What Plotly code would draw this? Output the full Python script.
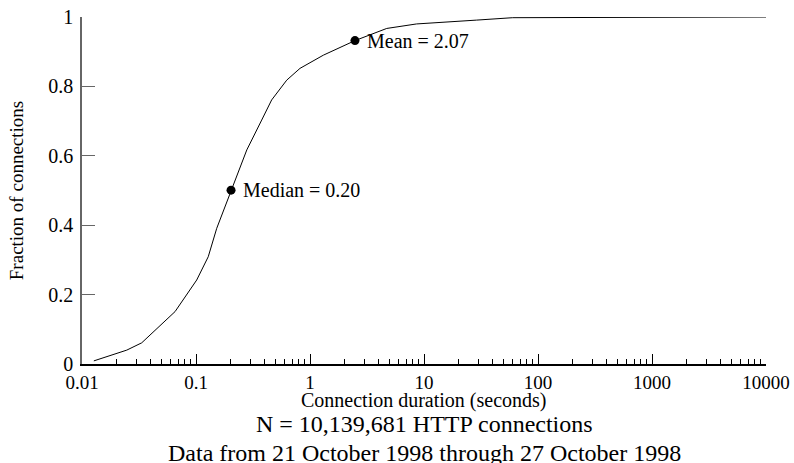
import math
import plotly.graph_objects as go

duration = [0.0127, 0.0247, 0.0334, 0.0655, 0.1014, 0.128, 0.152, 0.203, 0.243, 0.279,
            0.377, 0.461, 0.625, 0.817, 1.31, 2.48, 4.71, 8.6, 28.8, 60, 10000]
fraction = [0.009, 0.040, 0.061, 0.151, 0.242, 0.309, 0.391, 0.501, 0.564, 0.617,
            0.703, 0.761, 0.818, 0.852, 0.890, 0.932, 0.967, 0.980, 0.991, 0.998, 1.0]

point_x = [0.203, 2.48]
point_y = [0.501, 0.932]
point_labels = ["Median = 0.20", "Mean = 2.07"]

x_tickvals = [0.01, 0.1, 1, 10, 100, 1000, 10000]
x_ticktext = ["0.01", "0.1", "1", "10", "100", "1000", "10000"]
minor_vals = [m * d for d in [0.01, 0.1, 1, 10, 100, 1000] for m in range(2, 10)]
y_tickvals = [0, 0.2, 0.4, 0.6, 0.8, 1]
y_ticktext = ["0", "0.2", "0.4", "0.6", "0.8", "1"]

FONT = "Liberation Serif"

fig = go.Figure()
fig.add_trace(go.Scatter(x=duration, y=fraction, mode="lines",
                         line=dict(color="black", width=1), hoverinfo="skip"))
fig.add_trace(go.Scatter(x=point_x, y=point_y, mode="markers",
                         marker=dict(color="black", size=9), hoverinfo="skip"))

annotations = [
    dict(x=math.log10(px), y=py, text=lbl, xref="x", yref="y",
         xanchor="left", yanchor="middle", xshift=10, showarrow=False,
         font=dict(family=FONT, size=20, color="black"))
    for px, py, lbl in zip(point_x, point_y, point_labels)
]
annotations += [
    dict(text="Connection duration (seconds)", xref="paper", yref="paper",
         x=0.5, y=-0.104, xanchor="center", yanchor="middle", showarrow=False,
         font=dict(family=FONT, size=20)),
    dict(text="N = 10,139,681 HTTP connections", xref="paper", yref="paper",
         x=0.5, y=-0.172, xanchor="center", yanchor="middle", showarrow=False,
         font=dict(family=FONT, size=24)),
    dict(text="Data from 21 October 1998 through 27 October 1998", xref="paper",
         yref="paper", x=0.5, y=-0.256, xanchor="center", yanchor="middle",
         showarrow=False, font=dict(family=FONT, size=24)),
]

fig.update_layout(
    width=794, height=463,
    margin=dict(l=82, r=28, t=17, b=99),
    paper_bgcolor="white", plot_bgcolor="white",
    showlegend=False,
    font=dict(family=FONT, size=16, color="black"),
    xaxis=dict(type="log", range=[-2, 4], tickvals=x_tickvals, ticktext=x_ticktext,
               automargin=False,
               ticks="inside", ticklen=10, tickwidth=1, tickcolor="black",
               showline=True, linecolor="black", linewidth=1.5,
               showgrid=False, zeroline=False,
               minor=dict(tickvals=minor_vals, ticks="inside", ticklen=5,
                          tickcolor="black", showgrid=False),
               tickfont=dict(family=FONT, size=19)),
    yaxis=dict(range=[0, 1], tickvals=y_tickvals, ticktext=y_ticktext,
               automargin=False,
               ticks="inside", ticklen=13, tickwidth=1, tickcolor="#666",
               showline=True, linecolor="#666", linewidth=1.5,
               showgrid=False, zeroline=False,
               tickfont=dict(family=FONT, size=20),
               ticklabelstandoff=3,
               title=dict(text="Fraction of connections", standoff=20,
                          font=dict(family=FONT, size=19))),
    annotations=annotations,
)

fig.write_html("out.html")
